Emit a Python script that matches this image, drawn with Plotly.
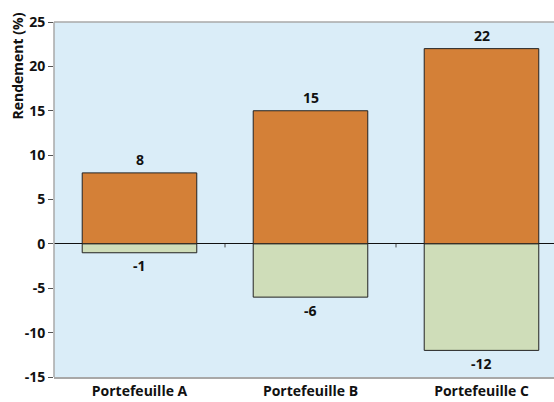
import plotly.graph_objects as go

categories = ["Portefeuille A", "Portefeuille B", "Portefeuille C"]
gains = [8, 15, 22]
losses = [-1, -6, -12]
y_ticks = [-15, -10, -5, 0, 5, 10, 15, 20, 25]
y_ticktext = ["-15", "-10", "-5", "0", "5", "10", "15", "20", "25"]

ORANGE = "#D48037"
GREEN = "#CFDDB9"
BG = "#DAEDF8"
FONT = "Open Sans"
FRAME = "#A8A8A8"

x_idx = list(range(len(categories)))
boundaries = [i + 0.5 for i in x_idx[:-1]]

fig = go.Figure()
fig.add_trace(go.Bar(x=x_idx, y=gains, width=0.67, marker=dict(color=ORANGE, line=dict(color="#222222", width=1)),
                     showlegend=False, hoverinfo="skip"))
fig.add_trace(go.Bar(x=x_idx, y=losses, width=0.67, marker=dict(color=GREEN, line=dict(color="#222222", width=1)),
                     showlegend=False, hoverinfo="skip"))

# small category-boundary ticks under the zero line
fig.add_trace(go.Scatter(x=boundaries, y=[0] * len(boundaries), mode="markers",
                         marker=dict(size=1, color="rgba(0,0,0,0)"),
                         error_y=dict(type="data", symmetric=False, array=[0] * len(boundaries),
                                      arrayminus=[0.4] * len(boundaries), width=0, thickness=1, color="#444444"),
                         showlegend=False, hoverinfo="skip"))

for i, v in enumerate(gains):
    fig.add_annotation(x=i, y=v, text=str(v), showarrow=False, yshift=13,
                       font=dict(family=FONT, size=14, color="#111111", weight="bold"))
for i, v in enumerate(losses):
    fig.add_annotation(x=i, y=v, text=str(v), showarrow=False, yshift=-13,
                       font=dict(family=FONT, size=14, color="#111111", weight="bold"))

# y axis title, aligned to the top of the plot
fig.add_annotation(xref="paper", yref="paper", x=(17 - 54) / 500, y=1, xanchor="center", yanchor="top",
                   yshift=11, textangle=-90, text="Rendement (%)", showarrow=False,
                   font=dict(family=FONT, size=14, color="#111111", weight="bold"))

# frame lines: top and left
fig.add_shape(type="line", xref="paper", yref="paper", x0=0, x1=1, y0=1, y1=1,
              line=dict(color=FRAME, width=1.5), layer="above")
fig.add_shape(type="line", xref="paper", yref="paper", x0=0, x1=0, y0=0, y1=1,
              line=dict(color=FRAME, width=1.5), layer="above")

fig.update_layout(
    width=554, height=402,
    margin=dict(l=54, r=0, t=22, b=25),
    barmode="overlay",
    plot_bgcolor=BG, paper_bgcolor="white",
    font=dict(family=FONT, size=14, color="#111111"),
    xaxis=dict(range=[-0.5, 2.424], tickvals=x_idx, ticktext=categories, showline=True, mirror=False,
               linecolor=FRAME, linewidth=1.5, showgrid=False, zeroline=False, ticks="",
               tickfont=dict(family=FONT, size=14, weight="bold")),
    yaxis=dict(range=[-15, 25], tickvals=y_ticks, ticktext=y_ticktext, showline=False,
               ticks="outside", ticklen=5, tickcolor="#555555", showgrid=False, mirror=False,
               zeroline=True, zerolinecolor="#111111", zerolinewidth=1,
               tickfont=dict(family=FONT, size=14, weight="bold")),
)

fig.write_html("out.html")
